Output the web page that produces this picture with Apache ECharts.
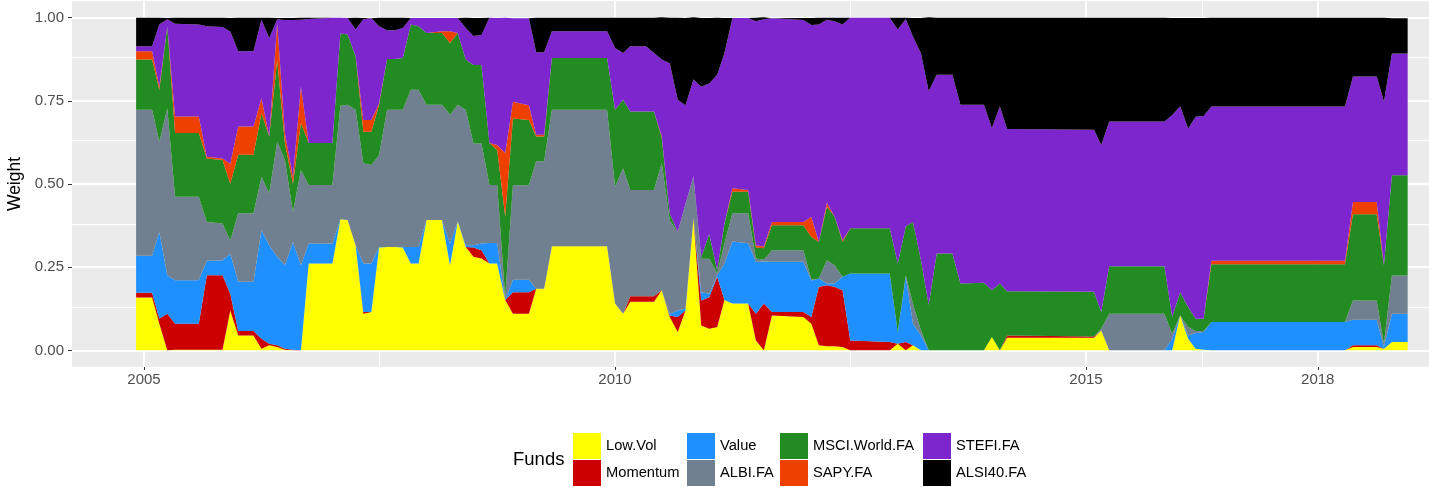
<!DOCTYPE html>
<html>
<head>
<meta charset="utf-8">
<title>Fund weights</title>
<script src="https://cdn.jsdelivr.net/npm/echarts@6/dist/echarts.min.js"></script>
<style>
  html, body { margin: 0; padding: 0; background: #ffffff; overflow: hidden; }
  #chart { width: 1480px; height: 487px; }
</style>
</head>
<body>
<div id="chart"></div>
<script>
// Rebalancing dates (month of each weight vector)
const dates = [
  '2004-12','2005-02','2005-03','2005-04','2005-05','2005-08','2005-09','2005-11','2005-12','2006-01',
  '2006-03','2006-04','2006-05','2006-06','2006-07','2006-08','2006-09','2006-10','2007-01','2007-02',
  '2007-03','2007-04','2007-05','2007-06','2007-07','2007-08','2007-09','2007-10','2007-11','2007-12',
  '2008-01','2008-03','2008-04','2008-05','2008-06','2008-07','2008-08','2008-09','2008-10','2008-11',
  '2008-12','2009-02','2009-03','2009-04','2009-05','2009-12','2010-01','2010-02','2010-03','2010-05',
  '2010-06','2010-07','2010-08','2010-09','2010-10','2010-11','2010-12','2011-01','2011-02','2011-03',
  '2011-04','2011-06','2011-07','2011-08','2011-09','2012-01','2012-02','2012-03','2012-04','2012-05',
  '2012-06','2012-07','2012-12','2013-01','2013-02','2013-03','2013-04','2013-05','2013-06','2013-08',
  '2013-09','2013-12','2014-01','2014-02','2014-03','2015-02','2015-03','2015-04','2015-11','2015-12',
  '2016-01','2016-02','2016-03','2016-04','2016-05','2017-10','2017-11','2018-02','2018-03','2018-04',
  '2018-06'
];

// Portfolio weight of each fund at every date
const lowVol = [
  .159,.159,.080,0,.002,.002,.002,.002,.120,.045,
  .045,.005,.015,.010,.002,0,0,.261,.261,.394,
  .392,.316,.110,.115,.309,.311,.311,.309,.261,.261,
  .392,.392,.256,.387,.311,.281,.276,.261,.261,.151,
  .110,.110,.185,.185,.313,.313,.141,.110,.146,.146,
  .146,.181,.100,.055,.120,.397,.075,.065,.070,.151,
  .141,.141,.030,0,.105,.100,.080,.015,.012,.012,
  .010,0,0,.020,0,.015,0,0,0,0,
  0,0,.040,0,.038,.038,.060,0,0,0,
  .105,.035,.005,.002,0,0,.010,.010,.005,.025,
  .025
];
const momentum = [
  .014,.014,.015,.110,.078,.078,.224,.224,.050,.013,
  .013,.030,.005,.005,.003,.002,0,0,0,0,
  0,0,.005,0,0,0,0,0,0,0,
  0,0,0,0,0,.028,.025,0,0,0,
  .065,.065,0,0,0,0,0,0,.017,.017,
  .017,0,.005,.045,0,0,.075,.095,.151,0,
  0,0,.080,.141,.010,.015,.020,.176,.184,.179,
  .171,.030,.025,0,.025,0,0,0,0,0,
  0,0,0,0,.007,.004,0,0,0,0,
  0,0,0,0,0,0,.005,.005,0,0,
  0
];
const value = [
  .111,.111,.261,.115,.131,.131,.043,.045,.120,.148,
  .148,.326,.296,.266,.251,.324,.256,.060,.060,0,
  0,0,.146,.146,.002,0,0,.002,.050,.050,
  0,0,.065,0,.005,.007,.020,.062,.062,0,
  .037,.037,0,0,0,0,0,0,0,0,
  0,0,.005,.020,.005,0,.025,.010,.005,.110,
  .186,.181,.156,.126,.151,.151,.110,.025,.005,.010,
  .040,.201,.206,.035,.196,.065,.045,0,0,0,
  0,0,0,0,0,0,0,0,0,.035,
  0,.010,.047,.053,.085,.085,.077,.077,.005,.085,
  .085
];
const albi = [
  .439,.439,.271,.502,.251,.251,.117,.110,.040,.206,
  .206,.161,.156,.346,.316,.090,.286,.176,.176,.341,
  .346,.407,.301,.296,.276,.412,.412,.412,.472,.472,
  .346,.346,.387,.351,.407,.306,.301,.174,.174,.010,
  .284,.284,.383,.383,.410,.410,.351,.437,.319,.319,
  .319,.382,.281,.236,.316,.126,.100,.105,.005,.060,
  .085,.090,.010,.005,.035,.035,.002,0,.070,.055,
  0,0,0,0,.005,.060,.015,0,0,0,
  0,0,0,0,0,0,.005,.110,.110,.015,
  0,.025,.006,.003,0,0,.058,.058,.010,.115,
  .115
];
const msci = [
  .151,.151,.156,.246,.191,.191,.191,.191,.171,.176,
  .176,.191,.171,.246,.050,.085,.141,.126,.126,.217,
  .211,.161,.095,.100,.151,.153,.153,.156,.196,.191,
  .216,.216,.216,.216,.151,.236,.236,.126,.105,.241,
  .201,.196,.075,.075,.156,.156,.231,.206,.236,.236,
  .236,.075,.020,0,0,0,.005,.075,.010,.060,
  .065,.065,.033,.035,.075,.075,.129,.110,.161,.146,
  .105,.136,.136,.206,.146,.246,.211,.136,.291,.291,
  .201,.203,.141,.201,.133,.134,.050,.143,.143,.050,
  .070,.060,.037,.037,.174,.174,.259,.259,.236,.301,
  .301
];
const sapy = [
  .025,.025,.010,0,.050,.050,.005,.005,.060,.085,
  .085,.045,0,.110,.030,.020,.110,0,0,0,
  0,0,.035,.035,.005,0,0,0,0,0,
  0,.005,.035,0,0,0,0,0,.015,.191,
  .050,.045,.005,.005,0,0,0,0,0,0,
  0,.005,0,0,0,0,0,0,0,0,
  .010,.005,.007,.005,.010,.010,.060,0,.012,0,
  .005,0,0,0,0,0,0,0,0,0,
  0,0,0,0,0,0,0,0,0,0,
  0,0,0,0,.010,.010,.037,.037,0,0,
  0
];
const stefi = [
  .015,.015,.186,.022,.279,.276,.392,.395,.397,.226,
  .226,.236,.296,.012,.341,.472,.201,.373,.377,.048,
  .050,.080,.303,.306,.231,.086,.086,.090,.020,.025,
  .045,.040,.040,.045,.095,.087,.090,.377,.382,.407,
  .251,.261,.248,.248,.080,.080,.186,.141,.196,.196,
  .176,.231,.452,.397,.296,.291,.512,.452,.587,.512,
  .512,.517,.673,.683,.612,.607,.577,.653,.550,.587,
  .648,.633,.633,.703,.624,.557,.622,.643,.537,.537,
  .537,.535,.487,.532,.487,.487,.502,.435,.435,.607,
  .559,.537,.607,.609,.464,.464,.377,.377,.492,.366,
  .366
];
const alsi40 = [
  .086,.086,.021,.004,.018,.021,.026,.028,.041,.101,
  .101,.006,.061,.004,.006,.006,.006,.004,0,0,
  0,.036,.004,0,.026,.038,.038,.031,0,0,
  0,0,0,0,.031,.054,.051,0,0,0,
  0,0,.104,.104,.041,.041,.091,.106,.086,.086,
  .106,.127,.137,.247,.262,.187,.207,.197,.172,.106,
  0,0,.011,.006,0,.006,.021,.021,.006,.011,
  .021,0,0,.036,.004,.056,.106,.222,.172,.172,
  .262,.262,.332,.267,.335,.337,.383,.312,.312,.292,
  .265,.332,.297,.295,.267,.267,.177,.177,.252,.106,
  .106
];

// Axis breaks, in decimal years
const yTicks = [0, 0.25, 0.5, 0.75, 1];
const yMinor = [0.125, 0.375, 0.625, 0.875];
const xTicks = [2005, 2010, 2015, 2017.46];
const xTickLabels = ['2005', '2010', '2015', '2018'];
const xMinor = [2007.5, 2012.5, 2016.23];
const xRange = [2004.236, 2019.076];

const funds = [
  { name: 'Low.Vol',       data: lowVol,   color: '#FFFF00' },
  { name: 'Momentum',      data: momentum, color: '#CD0000' },
  { name: 'Value',         data: value,    color: '#1E90FF' },
  { name: 'ALBI.FA',       data: albi,     color: '#708090' },
  { name: 'MSCI.World.FA', data: msci,     color: '#228B22' },
  { name: 'SAPY.FA',       data: sapy,     color: '#EE4000' },
  { name: 'STEFI.FA',      data: stefi,    color: '#7D26CD' },
  { name: 'ALSI40.FA',     data: alsi40,   color: '#000000' }
];

function monthToTime(s) {
  const parts = s.split('-').map(Number);
  return Date.UTC(parts[0], parts[1] - 1, 1);
}
function yearToTime(y) {
  const whole = Math.floor(y);
  const start = Date.UTC(whole, 0, 1);
  const next = Date.UTC(whole + 1, 0, 1);
  return start + (y - whole) * (next - start);
}
const xs = dates.map(monthToTime);

const FONT = 'Liberation Sans, Arial, sans-serif';

// Panel grid lines, drawn on the decimal-year axis beneath the areas
const white = (w) => ({ color: '#ffffff', width: w, type: 'solid' });
const gridSeries = {
  name: '__grid',
  type: 'line',
  xAxisIndex: 1,
  data: [],
  silent: true,
  markLine: {
    silent: true,
    z: 1,
    symbol: ['none', 'none'],
    label: { show: false },
    emphasis: { disabled: true },
    animation: false,
    data: [].concat(
      yMinor.map(v => ({ yAxis: v, lineStyle: white(1) })),
      xMinor.map(v => ({ xAxis: v, lineStyle: white(1) })),
      yTicks.map(v => ({ yAxis: v, lineStyle: white(2) })),
      xTicks.map(v => ({ xAxis: v, lineStyle: white(2) }))
    )
  }
};

// Stacked weights on the time axis
const areaSeries = funds.map(f => ({
  name: f.name,
  type: 'line',
  xAxisIndex: 0,
  stack: 'weights',
  z: 3,
  symbol: 'none',
  smooth: false,
  color: f.color,
  lineStyle: { width: 0 },
  areaStyle: { color: f.color, opacity: 1 },
  emphasis: { disabled: true },
  data: f.data.map((v, i) => [xs[i], v])
}));

function legendColumn(left, names) {
  return {
    orient: 'vertical',
    left: left,
    top: 433,
    padding: 0,
    itemWidth: 28,
    itemHeight: 26,
    itemGap: 1,
    icon: 'rect',
    selectedMode: false,
    data: names,
    textStyle: { fontSize: 14.7, color: '#000000', fontFamily: FONT }
  };
}

const chart = echarts.init(document.getElementById('chart'), null, { renderer: 'canvas' });
chart.setOption({
  animation: false,
  backgroundColor: '#ffffff',
  textStyle: { fontFamily: FONT },
  grid: {
    left: 72, top: 1, width: 1398, height: 366,
    show: true, backgroundColor: '#EBEBEB', borderWidth: 0,
    containLabel: false
  },
  xAxis: [
    {
      type: 'time',
      show: false,
      min: yearToTime(xRange[0]),
      max: yearToTime(xRange[1]),
      splitLine: { show: false }
    },
    {
      type: 'value',
      position: 'bottom',
      min: xRange[0],
      max: xRange[1],
      axisLine: { show: false },
      splitLine: { show: false },
      axisTick: {
        show: true, length: 3,
        customValues: xTicks,
        lineStyle: { color: '#333333', width: 1 }
      },
      axisLabel: {
        show: true,
        customValues: xTicks,
        margin: 5,
        fontSize: 15,
        color: '#4D4D4D',
        formatter: function (v) {
          for (let i = 0; i < xTicks.length; i++) {
            if (Math.abs(xTicks[i] - v) < 1e-6) return xTickLabels[i];
          }
          return '';
        }
      }
    }
  ],
  yAxis: {
    type: 'value',
    min: -0.05,
    max: 1.05,
    axisLine: { show: false },
    splitLine: { show: false },
    axisTick: {
      show: true, length: 4,
      customValues: yTicks,
      lineStyle: { color: '#333333', width: 1 }
    },
    axisLabel: {
      show: true,
      customValues: yTicks,
      margin: 8,
      fontSize: 15,
      color: '#4D4D4D',
      formatter: v => v.toFixed(2)
    }
  },
  legend: [
    legendColumn(573, ['Low.Vol', 'Momentum']),
    legendColumn(687, ['Value', 'ALBI.FA']),
    legendColumn(780, ['MSCI.World.FA', 'SAPY.FA']),
    legendColumn(923, ['STEFI.FA', 'ALSI40.FA'])
  ],
  graphic: [
    {
      type: 'text', x: 15, y: 184, rotation: Math.PI / 2,
      style: { text: 'Weight', fontSize: 17.5, fill: '#000000', fontFamily: FONT, align: 'center', verticalAlign: 'middle' }
    },
    {
      type: 'text', x: 513, y: 460,
      style: { text: 'Funds', fontSize: 18.5, fill: '#000000', fontFamily: FONT, align: 'left', verticalAlign: 'middle' }
    }
  ],
  series: [gridSeries].concat(areaSeries)
});
</script>
</body>
</html>
